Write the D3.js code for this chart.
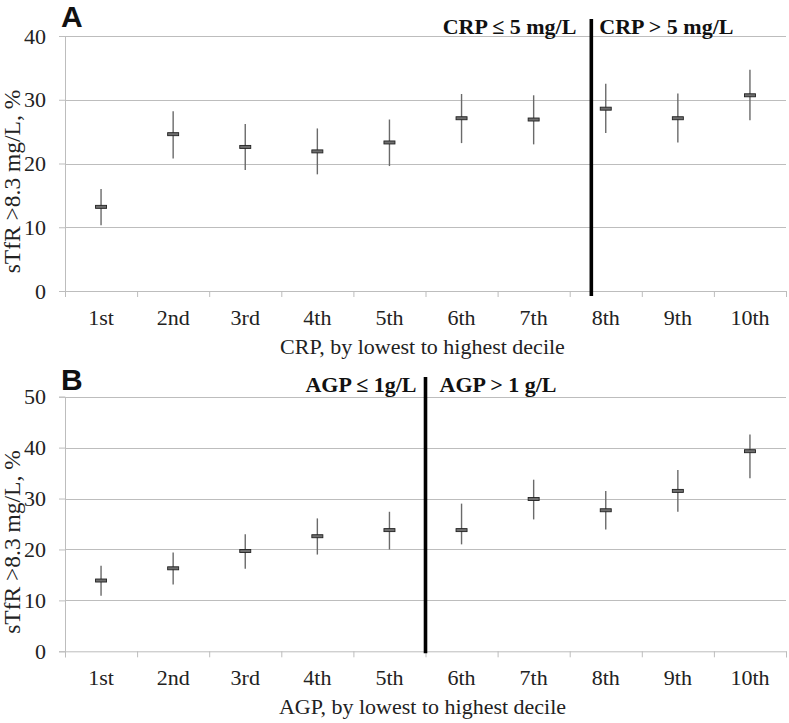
<!DOCTYPE html>
<html>
<head>
<meta charset="utf-8">
<script src="https://cdn.jsdelivr.net/npm/d3@7"></script>
<style>
  html, body { margin: 0; padding: 0; background: #fff; }
  svg { display: block; }
</style>
</head>
<body>
<div id="chart"></div>
<script>
// ---------- data ----------
const deciles = ["1st", "2nd", "3rd", "4th", "5th", "6th", "7th", "8th", "9th", "10th"];

const crpEstimate = [13.2, 24.6, 22.6, 21.9, 23.3, 27.1, 26.9, 28.6, 27.1, 30.7];
const crpLower    = [10.3, 20.8, 19.0, 18.3, 19.6, 23.2, 23.0, 24.8, 23.3, 26.8];
const crpUpper    = [16.0, 28.2, 26.2, 25.5, 26.9, 30.9, 30.7, 32.5, 31.0, 34.7];

const agpEstimate = [13.9, 16.3, 19.7, 22.6, 23.8, 23.8, 29.9, 27.7, 31.5, 39.3];
const agpLower    = [10.9, 13.1, 16.2, 19.0, 20.0, 21.0, 25.9, 23.9, 27.4, 34.0];
const agpUpper    = [16.8, 19.4, 23.0, 26.1, 27.4, 29.0, 33.7, 31.5, 35.6, 42.6];

const crpTicks = [0, 10, 20, 30, 40];
const agpTicks = [0, 10, 20, 30, 40, 50];

const yLabel = "sTfR >8.3 mg/L, %";
const crpXLabel = "CRP, by lowest to highest decile";
const agpXLabel = "AGP, by lowest to highest decile";
const crpCutLeft = "CRP \u2264 5 mg/L";
const crpCutRight = "CRP > 5 mg/L";
const agpCutLeft = "AGP \u2264 1g/L";
const agpCutRight = "AGP > 1 g/L";
// divider positions in category units (0 = left edge of 1st decile)
const crpDivider = 7.3;
const agpDivider = 5.0;

// ---------- drawing ----------
const W = 789, H = 723;
const svg = d3.select("#chart").append("svg")
  .attr("width", W).attr("height", H)
  .attr("viewBox", `0 0 ${W} ${H}`);
svg.append("rect").attr("width", W).attr("height", H).attr("fill", "#fff");

const serif = "'Liberation Serif', 'Times New Roman', Times, serif";
const sans = "'Liberation Sans', Arial, Helvetica, sans-serif";
const gridColor = "#bdbdbd";
const textColor = "#222";

function panel(opts) {
  const { top, bottom, letter, letterY, ticks, est, lo, hi, xLabel,
          cutLeft, cutRight, divider, cutY, gapL, gapR, divExtra } = opts;
  const left = 65, right = 786;
  const g = svg.append("g");

  const x = d3.scaleBand().domain(deciles).range([left, right]).padding(0);
  const xLin = d3.scaleLinear().domain([0, deciles.length]).range([left, right]);
  const y = d3.scaleLinear().domain([0, d3.max(ticks)]).range([bottom, top]);

  // gridlines + y axis ticks
  const yAxis = g.append("g").attr("transform", `translate(${left},0)`)
    .call(d3.axisLeft(y).tickValues(ticks).tickSize(6).tickPadding(13).tickFormat(d3.format("d")));
  yAxis.select(".domain").attr("stroke", gridColor);
  yAxis.selectAll(".tick line").attr("stroke", gridColor);
  yAxis.selectAll(".tick text")
    .attr("font-family", serif).attr("font-size", 22).attr("fill", textColor);

  g.append("g").selectAll("line").data(ticks.filter(t => t > 0)).join("line")
    .attr("x1", left).attr("x2", right)
    .attr("y1", d => Math.round(y(d)) + 0.5).attr("y2", d => Math.round(y(d)) + 0.5)
    .attr("stroke", gridColor).attr("stroke-width", 1);

  // bottom axis with boundary ticks
  const xAxis = g.append("g").attr("transform", `translate(0,${bottom})`)
    .call(d3.axisBottom(xLin).tickValues(d3.range(deciles.length + 1)).tickSize(6).tickFormat(""));
  xAxis.select(".domain").attr("stroke", gridColor);
  xAxis.selectAll(".tick line").attr("stroke", gridColor);

  // category labels
  const xLab = g.append("g").attr("transform", `translate(0,${bottom})`)
    .call(d3.axisBottom(x).tickSize(0).tickPadding(0));
  xLab.select(".domain").remove();
  xLab.selectAll(".tick text")
    .attr("dy", 0).attr("y", 34)
    .attr("font-family", serif).attr("font-size", 22).attr("fill", textColor);

  // axis titles
  g.append("text").attr("x", (left + right) / 2 - 3).attr("y", bottom + 63)
    .attr("text-anchor", "middle").attr("font-family", serif).attr("font-size", 22)
    .attr("fill", textColor).text(xLabel);

  g.append("text")
    .attr("transform", `translate(20,${(top + bottom) / 2 + 18}) rotate(-90)`)
    .attr("text-anchor", "middle").attr("font-family", serif).attr("font-size", 23.5)
    .attr("fill", textColor).text(yLabel);

  // panel letter
  g.append("text").attr("x", 61).attr("y", letterY)
    .attr("font-family", sans).attr("font-weight", "bold").attr("font-size", 30)
    .attr("fill", "#111").text(letter);

  // whiskers
  const cx = d => x(deciles[d]) + x.bandwidth() / 2;
  const idx = d3.range(deciles.length);
  g.append("g").selectAll("line").data(idx).join("line")
    .attr("x1", cx).attr("x2", cx)
    .attr("y1", i => y(hi[i])).attr("y2", i => y(lo[i]))
    .attr("stroke", "#6a6a6a").attr("stroke-width", 1.4);

  // point estimates
  g.append("g").selectAll("rect").data(idx).join("rect")
    .attr("x", i => cx(i) - 5.5).attr("width", 11)
    .attr("y", i => y(est[i]) - 1.5).attr("height", 3)
    .attr("fill", "#6e6e6e").attr("stroke", "#222").attr("stroke-width", 0.9);

  // divider
  const dx = xLin(divider);
  g.append("line").attr("x1", dx).attr("x2", dx)
    .attr("y1", cutY - 15).attr("y2", bottom + divExtra)
    .attr("stroke", "#000").attr("stroke-width", 3.6);

  g.append("text").attr("x", dx - gapL).attr("y", cutY)
    .attr("text-anchor", "end").attr("font-family", serif).attr("font-weight", "bold")
    .attr("font-size", 22).attr("fill", "#111").text(cutLeft);
  g.append("text").attr("x", dx + gapR).attr("y", cutY)
    .attr("text-anchor", "start").attr("font-family", serif).attr("font-weight", "bold")
    .attr("font-size", 22).attr("fill", "#111").text(cutRight);
}

panel({
  top: 36, bottom: 291, letter: "A", letterY: 27, ticks: crpTicks,
  est: crpEstimate, lo: crpLower, hi: crpUpper, xLabel: crpXLabel,
  cutLeft: crpCutLeft, cutRight: crpCutRight, divider: crpDivider,
  cutY: 34, gapL: 15, gapR: 8, divExtra: 5
});

panel({
  top: 396.7, bottom: 651.3, letter: "B", letterY: 390, ticks: agpTicks,
  est: agpEstimate, lo: agpLower, hi: agpUpper, xLabel: agpXLabel,
  cutLeft: agpCutLeft, cutRight: agpCutRight, divider: agpDivider,
  cutY: 392, gapL: 9, gapR: 14, divExtra: 2
});
</script>
</body>
</html>
